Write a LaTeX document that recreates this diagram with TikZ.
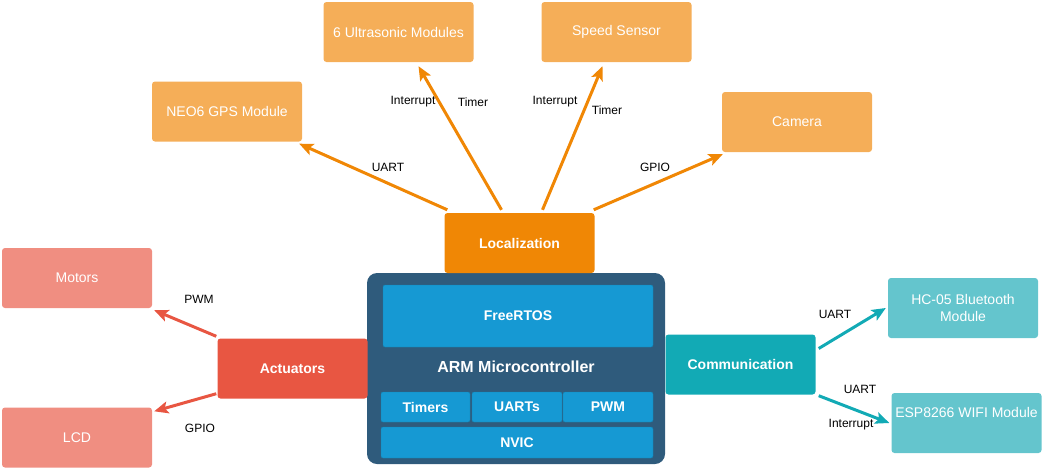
\documentclass[tikz,border=0pt]{standalone}
\usepackage{fontspec}
\setmainfont{Liberation Sans}
\usetikzlibrary{arrows.meta}

\definecolor{sensorFill}{HTML}{F5AE58}
\definecolor{locFill}{HTML}{F08705}
\definecolor{actLight}{HTML}{F08E81}
\definecolor{actFill}{HTML}{E85642}
\definecolor{comLight}{HTML}{64C5CD}
\definecolor{comFill}{HTML}{12AAB5}
\definecolor{mcuFill}{HTML}{2F5B7C}
\definecolor{coreFill}{HTML}{1699D3}

\tikzset{
  box/.style={rounded corners=3pt, minimum width=150pt, minimum height=60pt, inner sep=2pt,
    text=white, align=center, font=\fontsize{14}{17}\selectfont},
  hub/.style={box, font=\fontsize{14}{17}\selectfont\bfseries},
  core/.style={rounded corners=2pt, fill=coreFill, draw=coreFill!85!black, line width=0.4pt,
    text=white, inner sep=0pt, font=\fontsize{14}{17}\selectfont\bfseries},
  lbl/.style={font=\fontsize{12}{14}\selectfont, text=black, inner sep=1pt},
  link/.style={line width=3pt, -{Stealth[length=14pt,width=12pt,inset=3pt]}},
}

\begin{document}
\begin{tikzpicture}[x=1pt,y=-1pt]
  \useasboundingbox (0,0) rectangle (1043,469);

  \node[box, fill=sensorFill] (ultra) at (398.5,32) {6 Ultrasonic Modules};
  \node[box, fill=sensorFill] (speed) at (616.5,32) {Speed Sensor};
  \node[box, fill=sensorFill] (gps)   at (227,111.5) {NEO6 GPS Module};
  \node[box, fill=sensorFill] (cam)   at (797,122) {Camera};

  \node[box, fill=actLight] (motors) at (77,278) {Motors};
  \node[box, fill=actLight] (lcd)    at (77,437.5) {LCD};
  \node[box, fill=comLight] (bt)     at (963,308) {HC-05 Bluetooth\\Module};
  \node[box, fill=comLight, text depth=22pt] (wifi) at (966.5,423) {ESP8266 WIFI Module};

  \node[rounded corners=10pt, fill=mcuFill, minimum width=298pt, minimum height=191pt] (mcu) at (516,368.5) {};
  \node[core, minimum width=270pt, minimum height=62pt] (rtos) at (518,316) {FreeRTOS};
  \node[text=white, font=\fontsize{16}{19}\selectfont\bfseries] (mcuname) at (516,367) {ARM Microcontroller};
  \node[core, minimum width=89pt, minimum height=30pt] (tim)  at (425.5,407) {Timers};
  \node[core, minimum width=90pt, minimum height=30pt] (uart) at (517,407) {UARTs};
  \node[core, minimum width=90pt, minimum height=30pt] (pwm)  at (608,407) {PWM};
  \node[core, minimum width=272pt, minimum height=31pt] (nvic) at (517,442.5) {NVIC};

  \node[hub, fill=locFill] (loc)  at (519.5,243) {Localization};
  \node[hub, fill=actFill] (act)  at (292.5,368.5) {Actuators};
  \node[hub, fill=comFill] (comm) at (740.5,364.5) {Communication};

  \draw[link, locFill] ([xshift=3pt,yshift=3pt]loc.north west) -- ([xshift=-3pt,yshift=-2pt]gps.south east);
  \draw[link, locFill] ([xshift=-18pt,yshift=3pt]loc.north) -- ([xshift=20pt,yshift=-4pt]ultra.south);
  \draw[link, locFill] ([xshift=23pt,yshift=3pt]loc.north) -- ([xshift=-14pt,yshift=-4pt]speed.south);
  \draw[link, locFill] ([xshift=-1pt,yshift=3pt]loc.north east) -- ([xshift=1pt,yshift=-2pt]cam.south west);
  \draw[link, actFill] ([xshift=-1pt,yshift=2pt]act.north west) -- ([xshift=2pt,yshift=-2pt]motors.south east);
  \draw[link, actFill] ([xshift=-1pt,yshift=5pt]act.south west) -- ([xshift=2pt,yshift=-4pt]lcd.north east);
  \draw[link, comFill] ([xshift=3pt,yshift=16pt]comm.east) -- ([xshift=-2pt]bt.west);
  \draw[link, comFill] ([xshift=3pt,yshift=-1pt]comm.south east) -- ([xshift=-2pt]wifi.west);

  \node[lbl] (lgps)   at (388,167) {UART};
  \node[lbl] (lultra) at (413,102) {Interrupt};
  \node[lbl] (tultra) at (473,102) {Timer};
  \node[lbl] (lspeed) at (555,102) {Interrupt};
  \node[lbl] (tspeed) at (607,110) {Timer};
  \node[lbl] (lcam)   at (655,167) {GPIO};
  \node[lbl] (lmot)   at (199,299) {PWM};
  \node[lbl] (llcd)   at (200,428) {GPIO};
  \node[lbl] (lbt)    at (835,314) {UART};
  \node[lbl] (lwifi)  at (860,389) {UART};
  \node[lbl] (iwifi)  at (851,425) {Interrupt};
\end{tikzpicture}
\end{document}
